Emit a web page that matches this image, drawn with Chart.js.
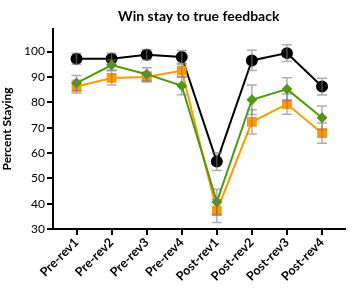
<!DOCTYPE html>
<html>
<head>
<meta charset="utf-8">
<script src="https://cdn.jsdelivr.net/npm/chart.js@4"></script>
<style>
  html, body { margin: 0; padding: 0; background: #fff; }
  #wrap { width: 352px; height: 289px; }
</style>
</head>
<body>
<div id="wrap"><canvas id="myChart" width="352" height="289"></canvas></div>
<script>
var categories = ['Pre-rev1', 'Pre-rev2', 'Pre-rev3', 'Pre-rev4', 'Post-rev1', 'Post-rev2', 'Post-rev3', 'Post-rev4'];
var yTicks = [30, 40, 50, 60, 70, 80, 90, 100];

var blackVals = [97.2, 97.2, 98.8, 97.9, 56.6, 96.5, 99.4, 86.2];
var blackErr  = [2.2, 2.2, 2.0, 2.5, 3.5, 4.0, 3.3, 3.3];
var greenVals = [87.6, 94.7, 91.1, 86.5, 40.7, 81.0, 85.2, 73.9];
var greenErr  = [3.0, 2.0, 2.5, 3.5, 5.0, 5.8, 4.5, 4.6];
var orangeVals = [86.2, 89.6, 90.0, 92.5, 37.1, 72.3, 79.3, 67.8];
var orangeErr  = [2.5, 2.8, 2.0, 2.5, 4.5, 4.8, 4.0, 4.0];

function toPoints(vals) {
    return vals.map(function(v, i) { return { x: i, y: v } })
}

var errorBars = {
    id: 'errorBars',
    afterDatasetsDraw: function(chart) {
        var ctx = chart.ctx
        var xs = chart.scales.x, ys = chart.scales.y
        var errs = [greenErr, orangeErr, blackErr]
        ctx.save()
        ctx.strokeStyle = 'rgba(120,120,120,0.6)'
        ctx.lineWidth = 1.5
        chart.data.datasets.forEach(function(ds, di) {
            ds.data.forEach(function(p, i) {
                var e = errs[di][i]
                var px = xs.getPixelForValue(p.x)
                var top = ys.getPixelForValue(p.y + e)
                var bot = ys.getPixelForValue(p.y - e)
                ctx.beginPath()
                ctx.moveTo(px, top); ctx.lineTo(px, bot)
                ctx.moveTo(px - 5, top); ctx.lineTo(px + 5, top)
                ctx.moveTo(px - 5, bot); ctx.lineTo(px + 5, bot)
                ctx.stroke()
            })
        })
        ctx.restore()
    }
}

var ctx = document.getElementById('myChart').getContext('2d')
var myChart = new Chart(ctx, {
    type: 'line',
    data: {
        datasets: [{
            label: 'Green',
            data: toPoints(greenVals),
            borderColor: '#4e9a06',
            backgroundColor: '#4e9a06',
            borderWidth: 2,
            pointStyle: 'rectRot',
            pointRadius: 4,
            tension: 0
        }, {
            label: 'Orange',
            data: toPoints(orangeVals),
            borderColor: '#ff9900',
            backgroundColor: '#ff9900',
            borderWidth: 2,
            pointStyle: 'rect',
            pointRadius: 5.5,
            tension: 0
        }, {
            label: 'Black',
            data: toPoints(blackVals),
            borderColor: '#000',
            backgroundColor: '#000',
            borderWidth: 2,
            pointStyle: 'circle',
            pointRadius: 5,
            tension: 0
        }]
    },
    options: {
        responsive: false,
        animation: false,
        layout: { padding: 0 },
        plugins: {
            legend: { display: false },
            tooltip: { enabled: false },
            title: {
                display: true,
                fullSize: false,
                text: 'Win stay to true feedback',
                color: '#000',
                font: { family: 'Lato', size: 14, weight: 'bold' },
                padding: { top: 8, bottom: 4 }
            }
        },
        scales: {
            x: {
                type: 'linear',
                min: -0.67,
                max: 7.64,
                afterBuildTicks: function(scale) {
                    scale.ticks = categories.map(function(c, i) { return { value: i } })
                },
                afterFit: function(scale) { scale.height = 60 },
                ticks: {
                    color: '#000',
                    font: { family: 'Lato', size: 12.5, weight: 'bold' },
                    minRotation: 45,
                    maxRotation: 45,
                    padding: 0,
                    callback: function(v) { return categories[v] }
                },
                grid: { drawOnChartArea: false, drawTicks: true, tickLength: 6, color: '#000', lineWidth: 2 },
                border: { color: '#000', width: 2 }
            },
            y: {
                min: 30,
                max: 109,
                afterBuildTicks: function(scale) {
                    scale.ticks = yTicks.map(function(v) { return { value: v } })
                },
                afterFit: function(scale) { scale.width = 53 },
                ticks: {
                    color: '#000',
                    font: { family: 'Lato', size: 12 },
                    padding: 2
                },
                title: {
                    display: true,
                    text: 'Percent Staying',
                    color: '#000',
                    font: { family: 'Lato', size: 12, weight: 'bold' },
                    padding: { top: 0, bottom: 3 }
                },
                grid: { drawOnChartArea: false, drawTicks: true, tickLength: 6, color: '#000', lineWidth: 2 },
                border: { color: '#000', width: 2 }
            }
        }
    },
    plugins: [errorBars]
})
</script>
</body>
</html>
